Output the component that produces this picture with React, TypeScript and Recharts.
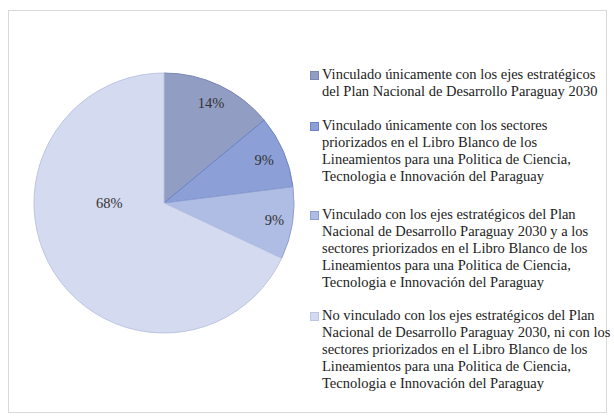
import { PieChart, Pie, Cell, Legend } from "recharts";

const CATEGORIES = [
  "Vinculado únicamente con los ejes estratégicos\ndel Plan Nacional de Desarrollo Paraguay 2030",
  "Vinculado únicamente con los sectores\npriorizados en el Libro Blanco de los\nLineamientos para una Politica de Ciencia,\nTecnologia e Innovación del Paraguay",
  "Vinculado con los ejes estratégicos del Plan\nNacional de Desarrollo Paraguay 2030 y a los\nsectores priorizados en el Libro Blanco de los\nLineamientos para una Politica de Ciencia,\nTecnologia e Innovación del Paraguay",
  "No vinculado con los ejes estratégicos del Plan\nNacional de Desarrollo Paraguay 2030, ni con los\nsectores priorizados en el Libro Blanco de los\nLineamientos para una Politica de Ciencia,\nTecnologia e Innovación del Paraguay",
];
const VALUES = [14, 9, 9, 68];

const FILLS = ["#929dc4", "#8c9fd7", "#afbce3", "#d4daef"];
const STROKES = ["#7887b6", "#6c84c6", "#8ea0d2", "#bdc5e2"];

// label placement (fraction of radius, angle override) - Excel "best fit" puts the big one at 9 o'clock
const LABEL_R = [0.85, 0.84, 0.86, 0.42];
const LABEL_ANGLE: (number | null)[] = [null, null, null, 180];
const ITEM_GAP = [17, 21, 16, 0];

const FONT = '"Liberation Serif", "Times New Roman", serif';
const RADIAN = Math.PI / 180;

const data = CATEGORIES.map((name, i) => ({ name, value: VALUES[i] }));

function renderLabel(props: any) {
  const { cx, cy, midAngle, outerRadius, index, value } = props;
  const ang = LABEL_ANGLE[index] ?? midAngle;
  const r = outerRadius * LABEL_R[index];
  const x = cx + r * Math.cos(-ang * RADIAN);
  const y = cy + r * Math.sin(-ang * RADIAN);
  return (
    <text
      x={x}
      y={y}
      fill="#333"
      fontSize={14.5}
      fontFamily={FONT}
      textAnchor="middle"
      dominantBaseline="central"
    >
      {value}%
    </text>
  );
}

function LegendContent() {
  return (
    <div style={{ fontFamily: FONT, fontSize: 14.5, lineHeight: "17px", color: "#222" }}>
      {data.map((d, i) => (
        <div key={i} style={{ display: "flex", marginBottom: ITEM_GAP[i] }}>
          <span
            style={{
              width: 7,
              height: 7,
              marginTop: 5,
              marginRight: 3,
              flex: "none",
              background: FILLS[i],
              border: `1px solid ${STROKES[i]}`,
            }}
          />
          <span style={{ whiteSpace: "pre-line" }}>{d.name}</span>
        </div>
      ))}
    </div>
  );
}

export default function App() {
  return (
    <div style={{ position: "absolute", left: 0, top: 0, width: 614, height: 420, background: "#fff" }}>
      <div
        style={{
          position: "absolute",
          left: 8,
          top: 10,
          width: 597,
          height: 401,
          border: "1px solid #d9d9d9",
        }}
      />
      <PieChart width={614} height={420} style={{ position: "absolute", left: 0, top: 0 }}>
        <Pie
          data={data}
          dataKey="value"
          nameKey="name"
          cx={159}
          cy={198}
          outerRadius={130}
          startAngle={90}
          endAngle={-270}
          label={renderLabel}
          labelLine={false}
          isAnimationActive={false}
        >
          {data.map((_, i) => (
            <Cell key={`cell-${i}`} fill={FILLS[i]} stroke={STROKES[i]} strokeWidth={1} />
          ))}
        </Pie>
        <Legend
          layout="vertical"
          content={<LegendContent />}
          wrapperStyle={{ left: 310, top: 66, width: 304 }}
        />
      </PieChart>
    </div>
  );
}
